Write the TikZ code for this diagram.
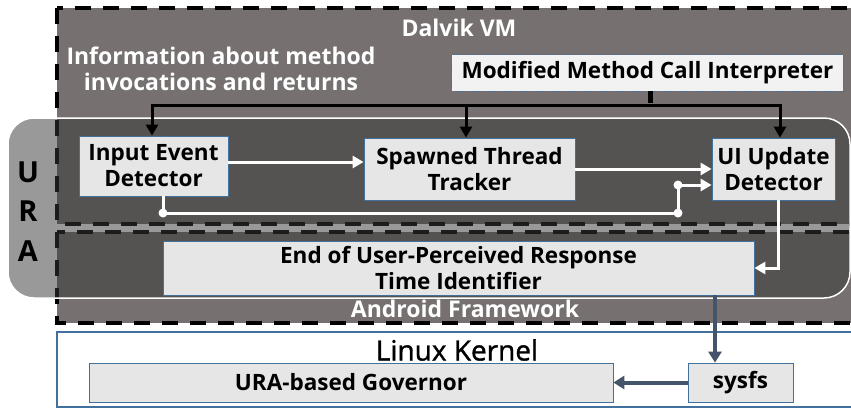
\documentclass[tikz,border=0pt]{standalone}
\usepackage{fontspec}
\setmainfont{Open Sans}
\usetikzlibrary{arrows.meta}
\definecolor{vmgray}{RGB}{118,113,112}
\definecolor{uragray}{RGB}{55,55,55}
\definecolor{boxfill}{RGB}{231,230,230}
\definecolor{modfill}{RGB}{242,242,242}
\definecolor{boxline}{RGB}{65,113,156}
\definecolor{kernarrow}{RGB}{68,84,106}
\tikzset{
  layer/.style={draw=black, line width=3.5pt, dash pattern=on 16pt off 12pt, fill=vmgray},
  compbox/.style={draw=boxline, line width=0.8pt, fill=boxfill, align=center,
    font=\fontsize{22.5}{26}\selectfont\bfseries, inner sep=0pt},
  whitetxt/.style={text=white, font=\fontsize{23}{26}\selectfont\bfseries, align=center, inner sep=0pt},
  blackarr/.style={draw=black, line width=3pt, -{Triangle[length=11pt,width=12pt]}},
  whitearr/.style={draw=white, line width=3pt, -{Triangle[length=11pt,width=12pt]}},
  whiteline/.style={draw=white, line width=3pt},
  kernarr/.style={draw=kernarrow, line width=4pt, -{Triangle[length=11pt,width=13pt]}},
  dotw/.style={fill=white, draw=none, circle, minimum size=9pt, inner sep=0pt},
  uraletter/.style={inner sep=0pt, font=\fontsize{29}{34}\selectfont\bfseries}
}
\begin{document}
\begin{tikzpicture}[x=1pt,y=-1pt]
\clip (0,0) rectangle (851,408);
\fill[white] (0,0) rectangle (851,408);
% layers
\draw[layer] (57,8) rectangle (880,224);
\draw[layer] (57,232) rectangle (880,323);
\draw[draw=boxline, line width=1.5pt, fill=white] (57,332) rectangle (880,407);
% URA overlay
\draw[draw=white, line width=1.5pt, fill=uragray, fill opacity=0.51, rounded corners=26pt] (8,118) rectangle (850,298);
% texts of layers
\node[whitetxt] (dalvik) at (459,28) {Dalvik VM};
\node[whitetxt] (info) at (221,69) {Information about method\\invocations and returns};
\node[whitetxt] (fw) at (465,309) {Android Framework};
\node[inner sep=0pt, font=\fontsize{28}{32}\selectfont\addfontfeature{FakeBold=1.2}] (lk) at (457,350) {Linux Kernel};
\node[uraletter] (u) at (28,172) {U};
\node[uraletter] (r) at (28,211) {R};
\node[uraletter] (a) at (28,251) {A};
% components
\node[compbox, draw=none, minimum width=391pt, minimum height=36pt, fill=modfill] (mod) at (647.5,73) {Modified Method Call Interpreter};
\draw[draw=boxline, line width=1.6pt, dash pattern=on 1.6pt off 1.6pt] (mod.south west) rectangle (mod.north east);
\node[compbox, minimum width=149pt, minimum height=60pt] (ied) at (153.5,166) {Input Event\\Detector};
\node[compbox, minimum width=211pt, minimum height=62pt] (sp) at (469.5,169) {Spawned Thread\\Tracker};
\node[compbox, minimum width=123pt, minimum height=62pt] (ui) at (773.5,169) {UI Update\\Detector};
\node[compbox, minimum width=591pt, minimum height=54pt] (end) at (458.5,268) {End of User-Perceived Response\\Time Identifier};
\node[compbox, minimum width=524pt, minimum height=39pt] (gov) at (351,382.5) {URA-based Governor};
\node[compbox, minimum width=105pt, minimum height=39pt] (sysfs) at (740.5,382.5) {sysfs};
% black arrows from interpreter
\coordinate (j) at (650,105);
\coordinate (jl) at (152,105);
\coordinate (jm) at (466,105);
\coordinate (jr) at (780,105);
\draw[draw=black, line width=5pt] (mod.south -| j) -- ([yshift=2pt]j);
\draw[draw=black, line width=3pt] ([xshift=-1.5pt]jl) -- ([xshift=1.5pt]jr);
\draw[blackarr] (jl) -- (jl |- ied.north);
\draw[blackarr] (jm) -- (jm |- sp.north);
\draw[blackarr] (jr) -- (jr |- ui.north);
% white arrows
\draw[whitearr] ([yshift=4pt]ied.east) -- ([yshift=4pt]ied.east -| sp.west);
\draw[whitearr] (sp.east) -- (sp.east -| ui.west);
\coordinate (d1) at (163,213);
\coordinate (d2) at (678,213);
\coordinate (d3) at (678,185);
\draw[whiteline] (ied.south -| d1) -- (d1) -- (d2) -- (d3);
\draw[whitearr] (d3) -- (d3 -| ui.west);
\node[dotw] (dot1) at (d1) {};
\node[dotw] (dot2) at (d2) {};
\node[dotw] (dot3) at (d3) {};
\coordinate (e1) at (778,268);
\draw[whiteline] (ui.south -| e1) -- (e1);
\draw[whitearr] ([xshift=1.5pt]e1) -- (end.east);
% kernel arrows
\coordinate (k) at (715,300);
\draw[kernarr] (end.south -| k) -- (sysfs.north -| k);
\draw[kernarr] (sysfs.west) -- (gov.east);
\end{tikzpicture}
\end{document}
